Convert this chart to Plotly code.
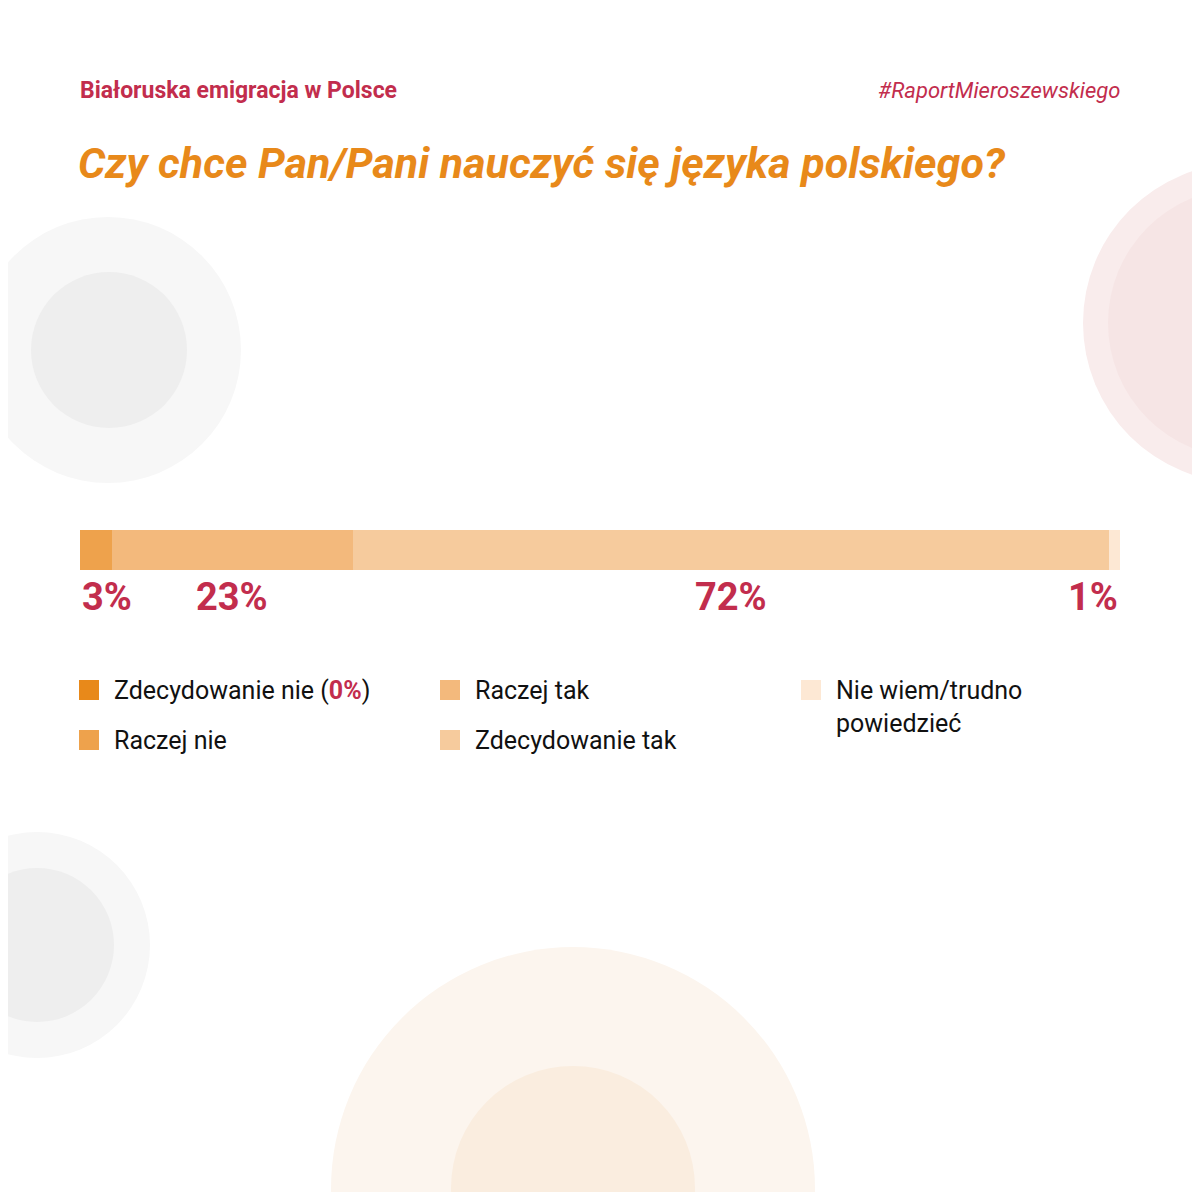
import plotly.graph_objects as go

# data
categories = ["Zdecydowanie nie", "Raczej nie", "Raczej tak", "Zdecydowanie tak", "Nie wiem/trudno powiedzieć"]
values = [0, 3, 23, 72, 1]
colors = ["#E8891A", "#EEA24C", "#F3B97C", "#F6CB9D", "#FDE8D4"]
legend_labels = [
    'Zdecydowanie nie (<b><span style="color:#C22D4D">0%</span></b>)',
    "Raczej nie",
    "Raczej tak",
    "Zdecydowanie tak",
    "Nie wiem/trudno<br>powiedzieć",
]

RED = "#C22D4D"
ORANGE = "#E8891A"
# page puts the plot 8px in from the corner, so work in screen pixels
OFF = 8
W = H = 1200 - 2 * OFF


def px(x):
    return (x - OFF) / W


def py(y):
    return 1 - (y - OFF) / H


fig = go.Figure()
for cat, val, col in zip(categories, values, colors):
    fig.add_trace(go.Bar(
        x=[val], y=["q"], orientation="h", name=cat,
        marker=dict(color=col, line=dict(width=0)),
        showlegend=False, hoverinfo="x+name",
    ))

# percent labels under the bar
total = sum(values)
nonzero = [i for i, v in enumerate(values) if v > 0]
start = 0
for i, v in enumerate(values):
    if v > 0:
        if i == nonzero[0]:
            xpos, anchor = start, "left"
        elif i == nonzero[-1]:
            xpos, anchor = start + v, "right"
        else:
            xpos, anchor = start + v / 2, "center"
        fig.add_annotation(
            x=xpos, xref="x", y=py(597), yref="paper",
            text=f"<b>{v}%</b>", showarrow=False, xanchor=anchor, yanchor="middle",
            font=dict(family="Roboto", size=38, color=RED),
        )
    start += v

# background circles
circles = [
    (108, 350, 133, "#F7F7F7"), (109, 350, 78, "#EEEEEE"),
    (1243, 323, 160, "#F9ECEC"), (1243, 323, 135, "#F6E5E5"),
    (37, 945, 113, "#F7F7F7"), (37, 945, 77, "#EEEEEE"),
    (573, 1189, 242, "#FCF5EE"), (573, 1188, 122, "#FAEDDF"),
]
for cx, cy, r, c in circles:
    fig.add_shape(type="circle", xref="paper", yref="paper",
                  x0=px(cx - r), x1=px(cx + r), y0=py(cy + r), y1=py(cy - r),
                  fillcolor=c, line=dict(width=0), layer="below")

# custom legend, three columns
legend_pos = [(79, 690), (79, 740), (440, 690), (440, 740), (801, 690)]
for lab, col, (lx, ly) in zip(legend_labels, colors, legend_pos):
    fig.add_shape(type="rect", xref="paper", yref="paper",
                  x0=px(lx), x1=px(lx + 20), y0=py(ly + 10), y1=py(ly - 10),
                  fillcolor=col, line=dict(width=0))
    fig.add_annotation(
        x=px(lx + 33), y=py(ly - 16), xref="paper", yref="paper",
        text=lab, showarrow=False, xanchor="left", yanchor="top", align="left",
        font=dict(family="Roboto", size=25, color="#111111"),
    )

# header texts
fig.add_annotation(x=px(78), y=py(91), xref="paper", yref="paper",
                   text="<b>Białoruska emigracja w Polsce</b>", showarrow=False,
                   xanchor="left", yanchor="middle",
                   font=dict(family="Roboto", size=23, color=RED))
fig.add_annotation(x=px(1122), y=py(91), xref="paper", yref="paper",
                   text="<i>#RaportMieroszewskiego</i>", showarrow=False,
                   xanchor="right", yanchor="middle",
                   font=dict(family="Roboto", size=22, color=RED))
fig.add_annotation(x=px(76), y=py(163), xref="paper", yref="paper",
                   text="<b><i>Czy chce Pan/Pani nauczyć się języka polskiego?</i></b>",
                   showarrow=False, xanchor="left", yanchor="middle",
                   font=dict(family="Roboto", size=43, color=ORANGE))

fig.update_layout(
    width=W, height=H,
    margin=dict(l=0, r=0, t=0, b=0),
    barmode="stack", bargap=0,
    paper_bgcolor="white", plot_bgcolor="rgba(0,0,0,0)",
    xaxis=dict(domain=[px(80), px(1120)], range=[0, total], visible=False, fixedrange=True),
    yaxis=dict(domain=[py(570), py(530)], range=[-0.5, 0.5], visible=False, fixedrange=True),
    showlegend=False,
)

fig.write_html("out.html")
